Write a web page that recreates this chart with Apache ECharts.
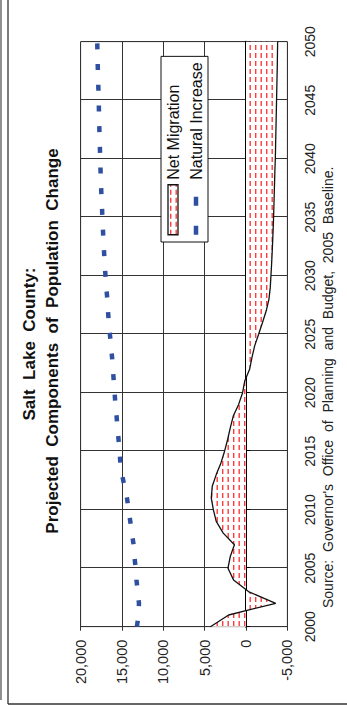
<!DOCTYPE html>
<html>
<head>
<meta charset="utf-8">
<script src="https://cdn.jsdelivr.net/npm/echarts@6/dist/echarts.min.js"></script>
<style>
  html, body { margin: 0; padding: 0; background: #fff; overflow: hidden; width: 347px; height: 706px; }
  /* The chart is laid out landscape and turned a quarter turn to stand upright on the page */
  #chart {
    position: absolute; left: 0; top: 0;
    width: 706px; height: 347px;
    transform-origin: 0 0;
    transform: translateY(706px) rotate(-90deg);
  }
</style>
</head>
<body>
<div id="chart"></div>
<script>
// Projection years
const years = [
  2000, 2001, 2002, 2003, 2004, 2005, 2006, 2007, 2008, 2009,
  2010, 2011, 2012, 2013, 2014, 2015, 2016, 2017, 2018, 2019,
  2020, 2021, 2022, 2023, 2024, 2025, 2026, 2027, 2028, 2029,
  2030, 2031, 2032, 2033, 2034, 2035, 2036, 2037, 2038, 2039,
  2040, 2041, 2042, 2043, 2044, 2045, 2046, 2047, 2048, 2049, 2050
];

// Net migration (persons per year)
const netMigration = [
  4300, 2100, -3600, -300, 1500, 2180, 1900, 1400, 2750, 3600,
  3950, 4200, 4080, 3600, 3030, 2590, 2220, 1900, 1540, 890,
  410, 150, -440, -720, -1050, -1530, -2000, -2450, -2780, -2940,
  -3020, -3100, -3170, -3230, -3290, -3340, -3380, -3420, -3460, -3500,
  -3550, -3580, -3610, -3640, -3670, -3700, -3730, -3760, -3790, -3810, -3830
];

// Natural increase: births minus deaths (persons per year)
const naturalIncrease = [
  13200, 13000, 12950, 13100, 13250, 13350, 13500, 13600, 13800, 14000,
  14200, 14400, 14700, 15000, 15200, 15300, 15420, 15550, 15660, 15800,
  15900, 16000, 16100, 16200, 16330, 16470, 16600, 16700, 16780, 16900,
  17000, 17100, 17170, 17250, 17310, 17380, 17430, 17500, 17550, 17600,
  17640, 17680, 17720, 17760, 17790, 17820, 17860, 17900, 17940, 17970, 18000
];

// Axis tick labels
const yearTicks = [2000, 2005, 2010, 2015, 2020, 2025, 2030, 2035, 2040, 2045, 2050];
const valueTicks = [-5000, 0, 5000, 10000, 15000, 20000];

const seriesNames = ['Net Migration', 'Natural Increase'];
const titleLines = ['Salt \u00a0Lake \u00a0County:', 'Projected \u00a0Components \u00a0of \u00a0Population \u00a0Change'];
const sourceText = 'Source: \u00a0Governor\'s \u00a0Office \u00a0of \u00a0Planning \u00a0and \u00a0Budget, \u00a02005 \u00a0Baseline.';

const FONT = '"Liberation Sans", Arial, sans-serif';
const BLUE = '#2f50a0';

// Red dashed hatching used to fill the migration area
function hatchPattern() {
  const c = document.createElement('canvas');
  c.width = 8; c.height = 11;
  const g = c.getContext('2d');
  g.fillStyle = '#ffffff';
  g.fillRect(0, 0, 8, 11);
  g.fillStyle = '#ff3b3b';
  g.fillRect(0, 2, 5, 1.4);
  g.fillRect(0, 7.5, 5, 1.4);
  return c;
}
const hatch = { image: hatchPattern(), repeat: 'repeat' };

const pairs = arr => years.map((y, i) => [y, arr[i]]);

const chart = echarts.init(document.getElementById('chart'), null, { renderer: 'svg', width: 706, height: 347 });

chart.setOption({
  animation: false,
  backgroundColor: '#fff',
  grid: {
    left: 79.3, right: 41.7, top: 80.7, bottom: 59.7,
    show: true, borderColor: '#9a9a9a', borderWidth: 1, backgroundColor: '#fff'
  },
  xAxis: [
    {
      type: 'value',
      min: yearTicks[0], max: yearTicks[yearTicks.length - 1],
      interval: yearTicks[1] - yearTicks[0],
      position: 'bottom',
      axisLine: { show: false, onZero: false },
      axisTick: { show: false },
      axisLabel: { fontFamily: FONT, fontSize: 14, color: '#222', margin: 16, formatter: v => String(v) },
      splitLine: { show: true, lineStyle: { color: '#333', width: 1 } }
    },
    {
      // year axis drawn along the zero line
      type: 'value',
      min: yearTicks[0], max: yearTicks[yearTicks.length - 1],
      interval: yearTicks[1] - yearTicks[0],
      position: 'bottom',
      axisLine: { show: true, onZero: true, lineStyle: { color: '#000', width: 2 } },
      axisTick: { show: true, length: 4, lineStyle: { color: '#000', width: 1 } },
      axisLabel: { show: false },
      splitLine: { show: false }
    }
  ],
  yAxis: {
    type: 'value',
    min: valueTicks[0], max: valueTicks[valueTicks.length - 1],
    interval: valueTicks[1] - valueTicks[0],
    axisLine: { show: true, lineStyle: { color: '#333', width: 1 } },
    axisTick: { show: true, length: 4, lineStyle: { color: '#333' } },
    axisLabel: { fontFamily: FONT, fontSize: 14.5, color: '#222', margin: 13, formatter: v => v.toLocaleString('en-US') },
    splitLine: { show: true, lineStyle: { color: '#333', width: 1 } }
  },
  legend: {
    orient: 'vertical',
    left: 464, top: 161,
    padding: [4, 6, 4, 5],
    itemWidth: 50, itemHeight: 10, itemGap: 7,
    backgroundColor: '#fff', borderColor: '#111', borderWidth: 1,
    textStyle: { fontFamily: FONT, fontSize: 16, color: '#111' },
    data: [
      { name: seriesNames[0], icon: 'rect', itemStyle: { color: hatch, borderColor: '#111', borderWidth: 1.3 } },
      { name: seriesNames[1], itemStyle: { opacity: 0 }, lineStyle: { type: [9, 20], width: 4.5, color: BLUE } }
    ]
  },
  series: [
    {
      name: seriesNames[0],
      type: 'line',
      data: pairs(netMigration),
      symbol: 'none',
      z: 2,
      itemStyle: { color: '#ff3b3b' },
      lineStyle: { color: '#111', width: 1.3 },
      areaStyle: { color: hatch, opacity: 1 }
    },
    {
      name: seriesNames[1],
      type: 'line',
      data: pairs(naturalIncrease),
      symbol: 'none',
      z: 3,
      itemStyle: { color: BLUE },
      lineStyle: { color: BLUE, width: 4.5, type: [6, 14.7], cap: 'butt' }
    }
  ],
  graphic: [
    { type: 'text', x: 362, y: 29.5, style: { text: titleLines[0], font: 'bold 17px ' + FONT, fill: '#111', align: 'center', verticalAlign: 'middle' } },
    { type: 'text', x: 365, y: 52.5, style: { text: titleLines[1], font: 'bold 17px ' + FONT, fill: '#111', align: 'center', verticalAlign: 'middle' } },
    { type: 'text', x: 98, y: 328, style: { text: sourceText, font: '14px ' + FONT, fill: '#222', align: 'left', verticalAlign: 'middle' } },
    // page frame
    { type: 'line', shape: { x1: 6, y1: 1, x2: 706, y2: 1 }, style: { stroke: '#555', lineWidth: 1.3 } },
    { type: 'line', shape: { x1: 2, y1: 8, x2: 706, y2: 8 }, style: { stroke: '#333', lineWidth: 1.3 } },
    { type: 'line', shape: { x1: 2, y1: 8, x2: 2, y2: 347 }, style: { stroke: '#333', lineWidth: 1.3 } }
  ]
});
</script>
</body>
</html>
